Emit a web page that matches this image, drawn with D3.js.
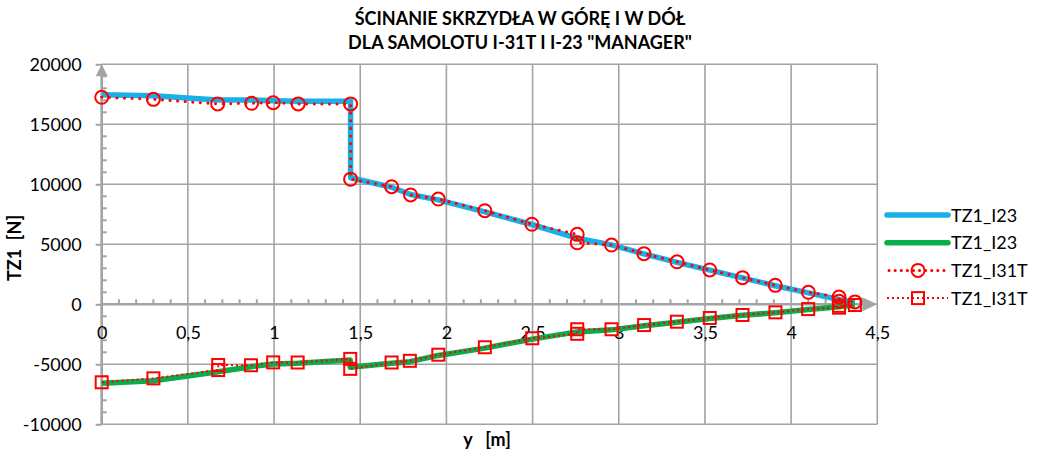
<!DOCTYPE html>
<html>
<head>
<meta charset="utf-8">
<script src="https://cdn.jsdelivr.net/npm/d3@7"></script>
<style>
  body { margin: 0; background: #fff; }
  svg { display: block; font-family: Lato, "Liberation Sans", sans-serif; }
</style>
</head>
<body>
<svg id="chart" width="1038" height="454"></svg>
<script>
// upper curve, I-23 (blue)
const blueX = [0, 0.3, 0.673, 0.87, 0.995, 1.14, 1.444, 1.444, 1.682, 1.792, 1.953, 2.223, 2.496, 2.759, 2.958, 3.146, 3.338, 3.528, 3.718, 3.908, 4.1, 4.278, 4.37];
const blueY = [17470, 17380, 17020, 17020, 16970, 16920, 16920, 10550, 9750, 9150, 8700, 7700, 6650, 5500, 4950, 4200, 3500, 2850, 2200, 1550, 950, 400, 150];

// lower curve, I-23 (green)
const greenX = [0, 0.3, 0.676, 0.866, 0.995, 1.137, 1.442, 1.442, 1.682, 1.788, 1.953, 2.223, 2.498, 2.759, 2.958, 3.147, 3.337, 3.528, 3.718, 3.909, 4.099, 4.278, 4.37];
const greenY = [-6580, -6370, -5620, -5200, -4975, -4920, -4650, -5250, -4920, -4780, -4260, -3650, -2900, -2300, -2130, -1780, -1500, -1180, -920, -700, -430, -200, -60];

// upper curve, I-31T (red circles)
const circX = [0, 0.3, 0.673, 0.87, 0.995, 1.14, 1.444, 1.444, 1.682, 1.792, 1.953, 2.223, 2.496, 2.759, 2.759, 2.958, 3.146, 3.338, 3.528, 3.718, 3.908, 4.1, 4.278, 4.278, 4.37];
const circY = [17250, 17080, 16700, 16750, 16800, 16700, 16700, 10430, 9800, 9110, 8770, 7800, 6670, 5830, 5130, 4940, 4220, 3540, 2860, 2220, 1580, 1000, 600, 250, 200];

// lower curve, I-31T (red squares)
const sqX = [0, 0.3, 0.676, 0.676, 0.866, 0.995, 1.137, 1.442, 1.442, 1.682, 1.788, 1.953, 2.223, 2.498, 2.759, 2.759, 2.958, 3.147, 3.337, 3.528, 3.718, 3.909, 4.099, 4.278, 4.278, 4.37];
const sqY = [-6500, -6170, -5480, -5060, -5080, -4840, -4850, -4550, -5380, -4850, -4710, -4200, -3580, -2830, -2460, -2080, -2080, -1730, -1450, -1140, -890, -670, -400, -280, -130, -60];

const xTicks = [0, 0.5, 1, 1.5, 2, 2.5, 3, 3.5, 4, 4.5];
const yTicks = [-10000, -5000, 0, 5000, 10000, 15000, 20000];
const legendNames = ['TZ1_I23', 'TZ1_I23', 'TZ1_I31T', 'TZ1_I31T'];
const titleLines = ['ŚCINANIE SKRZYDŁA W GÓRĘ I W DÓŁ', 'DLA SAMOLOTU I-31T I I-23 "MANAGER"'];

const svg = d3.select('#chart');
const gridCol = '#a3a3a3';
const red = '#ff0000';

const x = d3.scaleLinear().domain([0, 4.5]).range([101.7, 877.3]);
const y = d3.scaleLinear().domain([-10000, 20000]).range([424.3, 64.3]);

// title
svg.append('g').selectAll('text')
  .data(titleLines)
  .enter().append('text')
  .attr('x', 520)
  .attr('y', (d, i) => 25 + i * 24)
  .attr('text-anchor', 'middle')
  .style('font-weight', 'bold')
  .style('font-size', '18px')
  .text(d => d);

// grid
const grid = svg.append('g');
grid.selectAll('.vg').data(xTicks).enter().append('line')
  .attr('x1', d => x(d)).attr('x2', d => x(d))
  .attr('y1', y(20000)).attr('y2', y(-10000))
  .attr('stroke', gridCol).attr('stroke-width', 1.6);
grid.selectAll('.hg').data(yTicks).enter().append('line')
  .attr('x1', x(0)).attr('x2', x(4.5))
  .attr('y1', d => y(d)).attr('y2', d => y(d))
  .attr('stroke', gridCol).attr('stroke-width', 1.6);

// y axis: major ticks to the left, minor ticks every 1000 inside
const yAxis = svg.append('g').attr('transform', `translate(${x(0)},0)`);
yAxis.call(d3.axisLeft(y).tickValues(yTicks).tickSize(6).tickPadding(14)
  .tickFormat(d => String(d).replace('−', '-')));
yAxis.select('.domain').remove();
yAxis.selectAll('.tick line').attr('stroke', gridCol).attr('stroke-width', 2);
yAxis.selectAll('.tick text').style('font-size', '18px').style('font-family', 'Lato, sans-serif').attr('fill', '#000');
yAxis.selectAll('.minor').data(d3.range(-10000, 20001, 1000).filter(v => v % 5000 !== 0))
  .enter().append('line')
  .attr('x1', 0).attr('x2', 5)
  .attr('y1', d => y(d)).attr('y2', d => y(d))
  .attr('stroke', gridCol).attr('stroke-width', 2);
yAxis.append('line')
  .attr('x1', 0).attr('x2', 0).attr('y1', y(-10000)).attr('y2', y(20000) + 10)
  .attr('stroke', gridCol).attr('stroke-width', 2.6);
yAxis.append('path')
  .attr('d', `M-6,${y(20000) + 12}L6,${y(20000) + 12}L0,${y(20000)}Z`)
  .attr('fill', gridCol);

// x axis at zero, minor ticks every 0.1 upward
const xAxis = svg.append('g').attr('transform', `translate(0,${y(0)})`);
xAxis.call(d3.axisBottom(x).tickValues(xTicks).tickSize(0).tickPadding(22)
  .tickFormat(d => String(d).replace('.', ',')));
xAxis.select('.domain').remove();
xAxis.selectAll('.tick text').style('font-size', '18px').style('font-family', 'Lato, sans-serif').attr('fill', '#000');
xAxis.selectAll('.minor').data(d3.range(1, 45).filter(i => i % 5 !== 0).map(i => i / 10))
  .enter().append('line')
  .attr('x1', d => x(d)).attr('x2', d => x(d))
  .attr('y1', 0).attr('y2', -5)
  .attr('stroke', gridCol).attr('stroke-width', 2);
xAxis.append('line')
  .attr('x1', x(0)).attr('x2', x(4.5) - 12).attr('y1', 0).attr('y2', 0)
  .attr('stroke', gridCol).attr('stroke-width', 2.6);
xAxis.append('path')
  .attr('d', `M${x(4.5) - 15},-7L${x(4.5) - 15},7L${x(4.5)},0Z`)
  .attr('fill', gridCol);

// axis titles
svg.append('text')
  .attr('transform', `translate(21,248) rotate(-90)`)
  .attr('text-anchor', 'middle')
  .style('font-weight', 'bold').style('font-size', '18px').style('white-space', 'pre')
  .text('TZ1  [N]');
svg.append('text')
  .attr('x', 487).attr('y', 446)
  .attr('text-anchor', 'middle')
  .style('font-weight', 'bold').style('font-size', '18px').style('white-space', 'pre')
  .text('y   [m]');

// series
const pts = (xs, ys) => xs.map((v, i) => [v, ys[i]]);
const line = d3.line().x(d => x(d[0])).y(d => y(d[1]));
const plot = svg.append('g');

plot.append('path').datum(pts(blueX, blueY))
  .attr('d', line).attr('fill', 'none')
  .attr('stroke', '#1aafe6').attr('stroke-width', 5.5).attr('stroke-linejoin', 'round');
plot.append('path').datum(pts(greenX, greenY))
  .attr('d', line).attr('fill', 'none')
  .attr('stroke', '#0bac4c').attr('stroke-width', 5.5).attr('stroke-linejoin', 'round');

plot.append('path').datum(pts(circX, circY))
  .attr('d', line).attr('fill', 'none')
  .attr('stroke', red).attr('stroke-width', 3)
  .attr('stroke-linecap', 'round').attr('stroke-dasharray', '0.1 7.5');
plot.selectAll('.circ').data(pts(circX, circY)).enter().append('circle')
  .attr('cx', d => x(d[0])).attr('cy', d => y(d[1])).attr('r', 6.5)
  .attr('fill', 'none').attr('stroke', red).attr('stroke-width', 2);

plot.append('path').datum(pts(sqX, sqY))
  .attr('d', line).attr('fill', 'none')
  .attr('stroke', red).attr('stroke-width', 2)
  .attr('stroke-dasharray', '2 3');
plot.selectAll('.sq').data(pts(sqX, sqY)).enter().append('rect')
  .attr('x', d => x(d[0]) - 6).attr('y', d => y(d[1]) - 6)
  .attr('width', 12).attr('height', 12)
  .attr('fill', 'none').attr('stroke', red).attr('stroke-width', 2);

// legend
const legend = svg.append('g').attr('transform', 'translate(887,215)');
const rows = legend.selectAll('g').data(legendNames).enter().append('g')
  .attr('transform', (d, i) => `translate(0,${i * 27.7})`);
rows.append('text')
  .attr('x', 64).attr('y', 6.5)
  .style('font-size', '18px')
  .text(d => d);
rows.filter((d, i) => i === 0).append('line')
  .attr('x1', 0).attr('x2', 61).attr('stroke', '#1aafe6').attr('stroke-width', 5.5).attr('stroke-linecap', 'round');
rows.filter((d, i) => i === 1).append('line')
  .attr('x1', 0).attr('x2', 61).attr('stroke', '#0bac4c').attr('stroke-width', 5.5).attr('stroke-linecap', 'round');
const r3 = rows.filter((d, i) => i === 2);
r3.append('line').attr('x1', 2).attr('x2', 61)
  .attr('stroke', red).attr('stroke-width', 3)
  .attr('stroke-linecap', 'round').attr('stroke-dasharray', '0.1 6');
r3.append('circle').attr('cx', 31).attr('cy', 0).attr('r', 6.5)
  .attr('fill', 'none').attr('stroke', red).attr('stroke-width', 2);
const r4 = rows.filter((d, i) => i === 3);
r4.append('line').attr('x1', 0).attr('x2', 61)
  .attr('stroke', red).attr('stroke-width', 2).attr('stroke-dasharray', '2 3');
r4.append('rect').attr('x', 25).attr('y', -6).attr('width', 12).attr('height', 12)
  .attr('fill', 'none').attr('stroke', red).attr('stroke-width', 2);
</script>
</body>
</html>
